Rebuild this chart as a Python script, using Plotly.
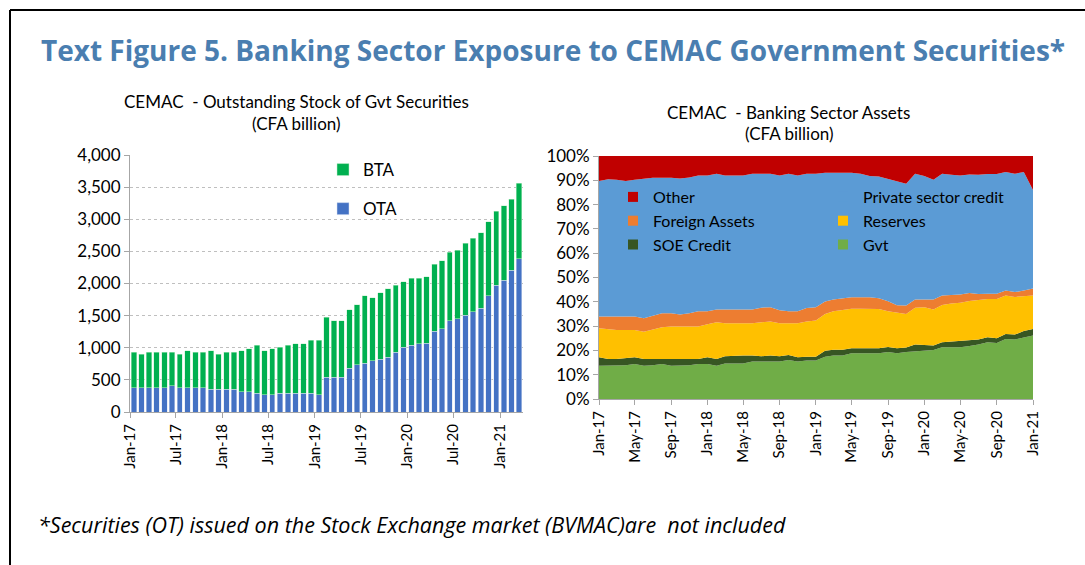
import pandas as pd
import plotly.graph_objects as go

W, H = 1085, 565

# ---- Left chart: outstanding stock of government securities (CFA billion)
stock_months = pd.date_range("2017-01-01", periods=51, freq="MS")
ota = [380, 380, 380, 380, 380, 406, 380, 380, 380, 380,
       354, 354, 354, 354, 318, 318, 292, 266, 266, 292,
       292, 292, 292, 292, 266, 542, 542, 542, 682, 734,
       760, 797, 823, 849, 932, 1010, 1036, 1062, 1073, 1255,
       1292, 1422, 1448, 1505, 1557, 1615, 1807, 1974, 2052, 2203, 2385]
bta = [547, 521, 547, 547, 547, 521, 521, 573, 547, 547,
       599, 547, 573, 573, 635, 666, 744, 687, 718, 718,
       744, 770, 770, 828, 854, 932, 880, 880, 907, 938,
       1047, 979, 1036, 1068, 1037, 1016, 1047, 1021, 1036, 1047,
       1062, 1068, 1073, 1125, 1151, 1177, 1151, 1151, 1156, 1109, 1177]

# ---- Right chart: banking sector assets, shares in percent
asset_months = pd.date_range("2017-01-01", periods=49, freq="MS")
gvt = [13.7, 13.7, 13.7, 13.9, 14.4, 13.7, 13.9, 14.4, 13.7, 13.7,
       13.9, 14.4, 14.4, 13.7, 14.6, 14.6, 14.6, 15.4, 15.4, 15.4,
       15.4, 16.0, 15.4, 15.8, 15.8, 17.4, 17.9, 17.9, 18.8, 18.8,
       18.8, 18.8, 19.3, 18.8, 19.3, 19.6, 20.0, 20.2, 21.3, 21.3,
       21.3, 21.8, 22.4, 23.4, 23.0, 24.7, 24.5, 25.3, 26.1]
soe = [3.5, 2.8, 2.8, 2.9, 2.8, 2.8, 2.6, 2.1, 2.8, 2.8,
       2.6, 2.1, 2.8, 2.8, 3.0, 3.3, 3.3, 2.5, 2.2, 2.5,
       2.2, 2.1, 1.8, 1.6, 1.6, 2.5, 2.4, 2.4, 2.1, 2.1,
       2.1, 2.1, 2.1, 2.1, 1.9, 2.8, 2.2, 1.8, 2.1, 2.4,
       2.7, 2.2, 2.1, 2.0, 2.0, 2.1, 2.0, 2.7, 2.7]
reserves = [11.9, 12.1, 11.9, 11.6, 11.2, 11.2, 12.1, 13.0, 13.3, 13.3,
            13.3, 13.3, 13.6, 15.1, 13.6, 13.3, 13.3, 13.3, 14.0, 14.0,
            13.6, 13.1, 14.0, 14.5, 14.9, 15.1, 15.8, 16.3, 16.2, 16.2,
            16.2, 16.1, 14.7, 14.6, 13.8, 15.2, 15.6, 14.8, 15.3, 15.6,
            15.6, 16.3, 16.1, 15.8, 16.2, 15.8, 15.5, 14.4, 13.8]
foreign = [4.9, 5.4, 5.6, 5.6, 5.6, 5.5, 5.6, 5.8, 5.5, 5.0,
           5.5, 6.3, 5.3, 5.2, 5.6, 5.6, 5.6, 5.6, 6.0, 5.9,
           5.3, 4.9, 4.9, 5.5, 5.5, 5.1, 4.8, 4.8, 4.8, 4.8,
           4.8, 4.5, 4.1, 3.1, 3.5, 3.3, 3.1, 4.1, 3.9, 3.5,
           3.4, 3.3, 2.6, 2.1, 2.1, 2.0, 2.0, 2.2, 2.9]
private = [55.7, 56.4, 56.2, 55.7, 56.2, 57.6, 56.9, 55.8, 55.8, 55.9,
           55.9, 55.9, 55.9, 55.9, 55.2, 55.2, 55.2, 55.9, 55.1, 54.9,
           55.5, 56.6, 55.9, 55.3, 54.9, 53.0, 52.2, 51.7, 51.2, 50.8,
           49.9, 50.1, 50.4, 50.9, 50.1, 51.8, 50.9, 49.3, 50.1, 49.5,
           49.0, 48.8, 49.1, 49.3, 49.3, 48.8, 48.7, 48.8, 40.5]
other = [10.3, 9.6, 9.8, 10.3, 9.8, 9.2, 8.9, 8.9, 8.9, 9.3,
         8.8, 8.0, 8.0, 7.3, 8.0, 8.0, 8.0, 7.3, 7.3, 7.3,
         8.0, 7.3, 8.0, 7.3, 7.3, 6.9, 6.9, 6.9, 6.9, 7.3,
         8.2, 8.4, 9.4, 10.5, 11.4, 7.3, 8.2, 9.8, 7.3, 7.7,
         8.0, 7.6, 7.7, 7.4, 7.4, 6.6, 7.3, 6.6, 14.0]

FONT = "Lato"
AXIS_GRAY = "#A6A6A6"


def px_x(v):
    return v / W


def px_y(v):
    return 1 - v / H


fig = go.Figure()

fig.add_trace(go.Bar(x=stock_months, y=ota, name="OTA", marker_color="#4472C4",
                     xperiod="M1", xperiodalignment="middle", legendgroup="ota", legendrank=2,
                     marker_line=dict(color="#D9E1F2", width=0.5),
                     xaxis="x", yaxis="y", legend="legend"))
fig.add_trace(go.Bar(x=stock_months, y=bta, name="BTA", marker_color="#00B050",
                     xperiod="M1", xperiodalignment="middle", legendgroup="bta", legendrank=1,
                     marker_line=dict(color="#C6EFCE", width=0.5),
                     xaxis="x", yaxis="y", legend="legend"))

# (name, values, colour, legend, rank in legend)
areas = [
    ("Gvt", gvt, "#70AD47", "legend3", 3),
    ("SOE Credit", soe, "#375623", "legend2", 3),
    ("Reserves", reserves, "#FFC000", "legend3", 2),
    ("Foreign Assets", foreign, "#ED7D31", "legend2", 2),
    ("Private sector credit", private, "#5B9BD5", "legend3", 1),
    ("Other", other, "#C00000", "legend2", 1),
]
for name, vals, col, leg, rank in areas:
    fig.add_trace(go.Scatter(x=asset_months, y=vals, name=name, stackgroup="assets",
                             mode="lines", line=dict(width=0, color=col), fillcolor=col,
                             showlegend=False, xaxis="x2", yaxis="y2"))
    # square legend key
    fig.add_trace(go.Scatter(x=[None], y=[None], name=name, mode="markers",
                             marker=dict(symbol="square", size=10, color=col),
                             legendgroup=name, legendrank=rank, legend=leg,
                             xaxis="x2", yaxis="y2"))

tick_font = dict(family=FONT, size=17, color="#000000")
date_font = dict(family=FONT, size=15, color="#000000")

fig.update_layout(
    width=W, height=H,
    margin=dict(l=0, r=0, t=0, b=0, pad=0, autoexpand=False),
    paper_bgcolor="white", plot_bgcolor="rgba(0,0,0,0)",
    barmode="stack", bargap=0.28,
    font=dict(family=FONT, size=15, color="#000000"),
    xaxis=dict(domain=[px_x(130), px_x(523)], type="date", automargin=False,
               range=["2017-01-01", "2021-04-01"], tick0="2017-01-01", dtick="M6",
               tickformat="%b-%y", tickangle=-90, ticks="outside", ticklen=5,
               tickcolor=AXIS_GRAY, showline=True, linecolor=AXIS_GRAY, linewidth=1,
               showgrid=False, tickfont=date_font, anchor="y"),
    yaxis=dict(domain=[px_y(412), px_y(155)], range=[0, 4000], dtick=500, automargin=False,
               tickformat=",", ticks="outside", ticklen=5, tickcolor=AXIS_GRAY,
               showline=True, linecolor=AXIS_GRAY, linewidth=1,
               showgrid=True, gridcolor="#BFBFBF", griddash="dot", gridwidth=1,
               zeroline=False, tickfont=tick_font, anchor="x"),
    xaxis2=dict(domain=[px_x(599), px_x(1033)], type="date", automargin=False,
                range=["2017-01-01", "2021-01-01"], tick0="2017-01-01", dtick="M4",
                tickformat="%b-%y", tickangle=-90, ticks="outside", ticklen=5,
                tickcolor=AXIS_GRAY, showline=True, linecolor=AXIS_GRAY, linewidth=1,
                showgrid=False, tickfont=date_font, anchor="y2"),
    yaxis2=dict(domain=[px_y(399), px_y(156)], range=[0, 100], dtick=10, automargin=False,
                ticksuffix="%", ticks="outside", ticklen=5, tickcolor=AXIS_GRAY,
                showline=True, linecolor=AXIS_GRAY, linewidth=1,
                showgrid=False, zeroline=False, tickfont=tick_font, anchor="x2"),
    legend=dict(x=px_x(323), y=px_y(152), xanchor="left", yanchor="top",
                traceorder="grouped", tracegroupgap=14,
                bgcolor="rgba(0,0,0,0)", font=dict(family=FONT, size=17)),
    legend2=dict(x=px_x(613), y=px_y(180), xanchor="left", yanchor="top",
                 traceorder="grouped", tracegroupgap=0,
                 bgcolor="rgba(0,0,0,0)", font=dict(family=FONT, size=16)),
    legend3=dict(x=px_x(823), y=px_y(180), xanchor="left", yanchor="top",
                 traceorder="grouped", tracegroupgap=0,
                 bgcolor="rgba(0,0,0,0)", font=dict(family=FONT, size=16)),
)

# frame
fig.add_shape(type="line", xref="paper", yref="paper", x0=px_x(10), x1=1, y0=px_y(10), y1=px_y(10),
              line=dict(color="black", width=2))
fig.add_shape(type="line", xref="paper", yref="paper", x0=px_x(10), x1=px_x(10), y0=px_y(10), y1=0,
              line=dict(color="black", width=2))

# titles
fig.add_annotation(text="<b>Text Figure 5. Banking Sector Exposure to CEMAC Government Securities*</b>",
                   x=px_x(553), y=px_y(50), xref="paper", yref="paper", showarrow=False,
                   xanchor="center", yanchor="middle",
                   font=dict(family="Open Sans", size=28, color="#4A7EB0"))
for txt, cx, cy in [("CEMAC  - Outstanding Stock of Gvt Securities", 296, 102),
                    ("(CFA billion)", 296, 124),
                    ("CEMAC  - Banking Sector Assets", 788, 112),
                    ("(CFA billion)", 789, 133)]:
    fig.add_annotation(text=txt, x=px_x(cx), y=px_y(cy), xref="paper", yref="paper",
                       showarrow=False, xanchor="center", yanchor="middle",
                       font=dict(family=FONT, size=17, color="#000000"))

fig.add_annotation(text="<i>*Securities (OT) issued on the Stock Exchange market (BVMAC)are  not included</i>",
                   x=px_x(36), y=px_y(524), xref="paper", yref="paper",
                   xanchor="left", yanchor="middle",
                   showarrow=False, font=dict(family="Open Sans", size=21.5, color="#000000"))

# the page body has a default 8px margin; remove it so the figure sits at the window corner
fig.write_html("out.html", config={"displayModeBar": False},
               post_script="document.body.style.margin='0';")
